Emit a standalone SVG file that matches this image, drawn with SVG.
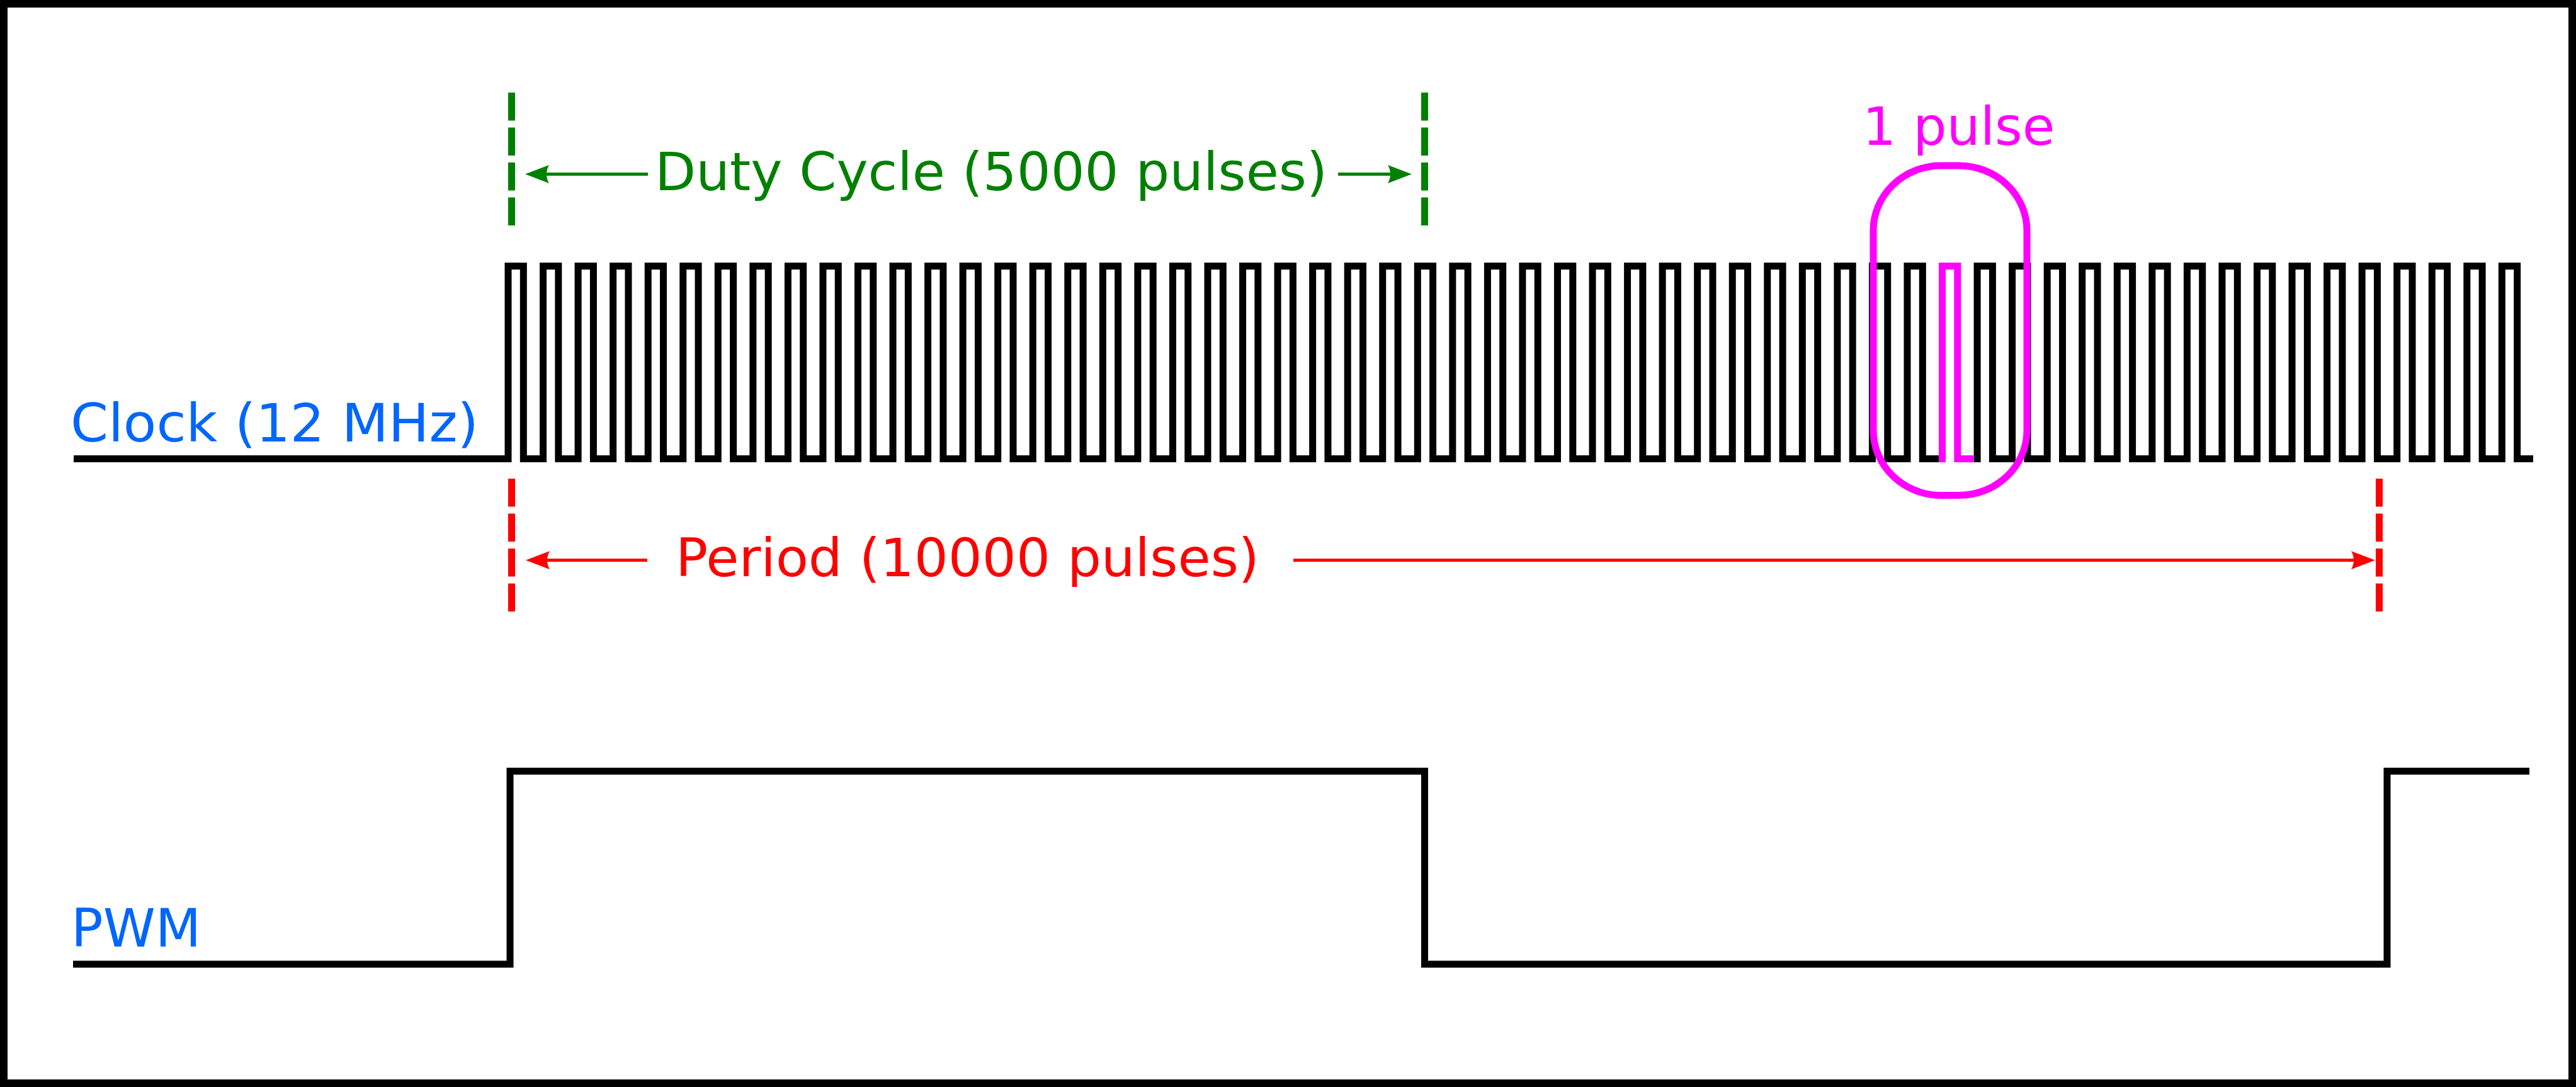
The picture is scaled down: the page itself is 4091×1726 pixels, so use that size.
<svg xmlns="http://www.w3.org/2000/svg" width="4091" height="1726" viewBox="0 0 4091 1726">
<style>
.wave{fill:none;stroke:#000;stroke-width:11;stroke-linejoin:miter;stroke-linecap:butt}
.lbl{font-family:"DejaVu Sans",Verdana,sans-serif;font-size:84px}
.blue{fill:#0066FF}
.green{fill:#008000}
.red{fill:#FF0000}
.mag{fill:#FF00FF}
.dashG{stroke:#008000;stroke-width:11;stroke-dasharray:44.5 11;fill:none}
.dashR{stroke:#FF0000;stroke-width:11;stroke-dasharray:44.5 11;fill:none}
.arrG{stroke:#008000;stroke-width:5;fill:none;marker-end:url(#headG)}
.arrR{stroke:#FF0000;stroke-width:5;fill:none;marker-end:url(#headR)}
</style>
<defs>
<marker id="headG" markerUnits="userSpaceOnUse" orient="auto" refX="0" refY="0" markerWidth="60" markerHeight="40" overflow="visible">
<path d="M30,0 L-8,-14.5 Q0,0 -8,14.5 Z" fill="#008000"/>
</marker>
<marker id="headR" markerUnits="userSpaceOnUse" orient="auto" refX="0" refY="0" markerWidth="60" markerHeight="40" overflow="visible">
<path d="M30,0 L-8,-14.5 Q0,0 -8,14.5 Z" fill="#FF0000"/>
</marker>
</defs>
<rect x="0" y="0" width="4091" height="1726" fill="#FFFFFF"/>
<rect id="frame" x="6" y="6" width="4079" height="1714" fill="none" stroke="#000" stroke-width="12"/>

<g id="clock">
<path class="wave" d="M117,728.5 H807
V422.5h24.3V728.5h31.25 V422.5h24.3V728.5h31.25 V422.5h24.3V728.5h31.25 V422.5h24.3V728.5h31.25 V422.5h24.3V728.5h31.25
V422.5h24.3V728.5h31.25 V422.5h24.3V728.5h31.25 V422.5h24.3V728.5h31.25 V422.5h24.3V728.5h31.25 V422.5h24.3V728.5h31.25
V422.5h24.3V728.5h31.25 V422.5h24.3V728.5h31.25 V422.5h24.3V728.5h31.25 V422.5h24.3V728.5h31.25 V422.5h24.3V728.5h31.25
V422.5h24.3V728.5h31.25 V422.5h24.3V728.5h31.25 V422.5h24.3V728.5h31.25 V422.5h24.3V728.5h31.25 V422.5h24.3V728.5h31.25
V422.5h24.3V728.5h31.25 V422.5h24.3V728.5h31.25 V422.5h24.3V728.5h31.25 V422.5h24.3V728.5h31.25 V422.5h24.3V728.5h31.25
V422.5h24.3V728.5h31.25 V422.5h24.3V728.5h31.25 V422.5h24.3V728.5h31.25 V422.5h24.3V728.5h31.25 V422.5h24.3V728.5h31.25
V422.5h24.3V728.5h31.25 V422.5h24.3V728.5h31.25 V422.5h24.3V728.5h31.25 V422.5h24.3V728.5h31.25 V422.5h24.3V728.5h31.25
V422.5h24.3V728.5h31.25 V422.5h24.3V728.5h31.25 V422.5h24.3V728.5h31.25 V422.5h24.3V728.5h31.25 V422.5h24.3V728.5h31.25
V422.5h24.3V728.5H3079.05
M3134.6,728.5 H3140.1
V422.5h24.3V728.5h31.25 V422.5h24.3V728.5h31.25 V422.5h24.3V728.5h31.25 V422.5h24.3V728.5h31.25 V422.5h24.3V728.5h31.25
V422.5h24.3V728.5h31.25 V422.5h24.3V728.5h31.25 V422.5h24.3V728.5h31.25 V422.5h24.3V728.5h31.25 V422.5h24.3V728.5h31.25
V422.5h24.3V728.5h31.25 V422.5h24.3V728.5h31.25 V422.5h24.3V728.5h31.25 V422.5h24.3V728.5h31.25 V422.5h24.3V728.5h31.25
V422.5h24.3V728.5H4023"/>
<text class="lbl blue" x="112" y="701" textLength="648" lengthAdjust="spacingAndGlyphs">Clock (12 MHz)</text>
</g>

<g id="pulse-highlight">
<path d="M3084.55,734 V422.5 H3108.85 V728.5 H3134.6" fill="none" stroke="#FF00FF" stroke-width="11"/>
<rect x="2975" y="263" width="244" height="523.5" rx="108" ry="103" fill="none" stroke="#FF00FF" stroke-width="11"/>
<text class="lbl mag" x="2958" y="230">1 pulse</text>
</g>

<g id="pwm">
<path class="wave" d="M116,1531 H810 V1224.5 H2262.5 V1531 H3791 V1224.5 H4017"/>
<text class="lbl blue" x="113" y="1503">PWM</text>
</g>

<g id="duty-cycle">
<text class="lbl green" x="1040" y="302" textLength="1068" lengthAdjust="spacingAndGlyphs">Duty Cycle (5000 pulses)</text>
</g>

<g id="period">
<text class="lbl red" x="1073" y="915" textLength="927" lengthAdjust="spacingAndGlyphs">Period (10000 pulses)</text>
</g>

<g id="connectors">
<line class="dashG" x1="812.5" y1="147" x2="812.5" y2="358"/>
<line class="dashG" x1="2262.5" y1="147" x2="2262.5" y2="358"/>
<line class="dashR" x1="812.5" y1="760" x2="812.5" y2="971"/>
<line class="dashR" x1="3778.5" y1="760" x2="3778.5" y2="971"/>
<line class="arrG" x1="1029" y1="276.5" x2="864" y2="276.5"/>
<line class="arrG" x1="2125" y1="276.5" x2="2212" y2="276.5"/>
<line class="arrR" x1="1028" y1="889.5" x2="865" y2="889.5"/>
<line class="arrR" x1="2054" y1="889.5" x2="3742" y2="889.5"/>
</g>
</svg>
